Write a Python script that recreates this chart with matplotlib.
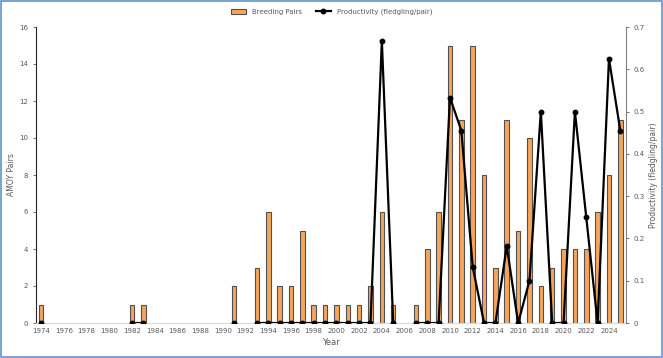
import numpy as np
import matplotlib.pyplot as plt
from matplotlib.patches import Rectangle

# years and data
years = list(range(1974, 2026))
pairs = {1974: 1, 1982: 1, 1983: 1, 1991: 2, 1993: 3, 1994: 6, 1995: 2, 1996: 2,
         1997: 5, 1998: 1, 1999: 1, 2000: 1, 2001: 1, 2002: 1, 2003: 2, 2004: 6,
         2005: 1, 2007: 1, 2008: 4, 2009: 6, 2010: 15, 2011: 11, 2012: 15, 2013: 8,
         2014: 3, 2015: 11, 2016: 5, 2017: 10, 2018: 2, 2019: 3, 2020: 4, 2021: 4,
         2022: 4, 2023: 6, 2024: 8, 2025: 11}
productivity = {1974: 0, 1982: 0, 1983: 0, 1991: 0, 1993: 0, 1994: 0, 1995: 0,
                1996: 0, 1997: 0, 1998: 0, 1999: 0, 2000: 0, 2001: 0, 2002: 0,
                2003: 0, 2004: 0.667, 2005: 0, 2007: 0, 2008: 0, 2009: 0,
                2010: 0.533, 2011: 0.455, 2012: 0.133, 2013: 0, 2014: 0, 2015: 0.182,
                2016: 0, 2017: 0.1, 2018: 0.5, 2019: 0, 2020: 0, 2021: 0.5,
                2022: 0.25, 2023: 0, 2024: 0.625, 2025: 0.455}

bar_vals = [pairs.get(y, 0) for y in years]
prod_vals = [productivity.get(y, np.nan) for y in years]

grey = '#595959'
plt.rcParams['font.family'] = 'DejaVu Sans'

fig = plt.figure(figsize=(6.63, 3.58), dpi=100)
ax = fig.add_axes([35.5 / 663, 35 / 358, (626 - 35.5) / 663, (323 - 27) / 358])

bar_years = [y for y, v in zip(years, bar_vals) if v > 0]
bar_h = [v for v in bar_vals if v > 0]
ax.bar(bar_years, bar_h, width=0.4, color='#F6A55A', edgecolor='#505050',
       linewidth=0.8, label='Breeding Pairs', zorder=2)
ax.set_xlim(1973.5, 2025.5)
ax.set_ylim(0, 16)
ax.set_yticks(range(0, 17, 2))
ax.set_xticks(range(1974, 2025, 2))
ax.tick_params(axis='both', labelsize=5, colors=grey, length=2, width=0.6)
ax.tick_params(axis='x', length=0)
ax.set_ylabel('AMOY Pairs', fontsize=5.5, color=grey, labelpad=2)
ax.set_xlabel('Year', fontsize=6, color=grey, labelpad=3)
ax.spines['top'].set_visible(False)
ax.spines['right'].set_visible(False)
ax.spines['left'].set_color('#262626')
ax.spines['bottom'].set_color('#D9D9D9')

ax2 = ax.twinx()
ax2.plot(years, prod_vals, color='black', linewidth=1.6, marker='o',
         markersize=3.2, label='Productivity (fledgling/pair)', zorder=3)
ax2.set_ylim(0, 0.7)
ax2.set_yticks(np.arange(0, 0.71, 0.1))
ax2.set_yticklabels(['0'] + [f'{v:.1f}' for v in np.arange(0.1, 0.71, 0.1)])
ax2.tick_params(axis='y', labelsize=5, colors=grey, length=2, width=0.6)
ax2.set_ylabel('Productivity (fledgling/pair)', fontsize=5.5, color=grey, labelpad=3)
ax2.spines['top'].set_visible(False)
ax2.spines['left'].set_visible(False)
ax2.spines['bottom'].set_visible(False)
ax2.spines['right'].set_color('#808080')

h1, l1 = ax.get_legend_handles_labels()
h2, l2 = ax2.get_legend_handles_labels()
fig.legend(h1 + h2, l1 + l2, loc='center', bbox_to_anchor=(0.5, 1 - 12 / 358),
           ncol=2, frameon=False, fontsize=5, labelcolor=grey,
           handlelength=2.2, columnspacing=2, handleheight=0.6)

fig.patches.append(Rectangle((0.002, 0.003), 0.996, 0.994, transform=fig.transFigure,
                             fill=False, edgecolor='#6A8FD0', linewidth=1.2))

fig.savefig('out.png', dpi=100)
